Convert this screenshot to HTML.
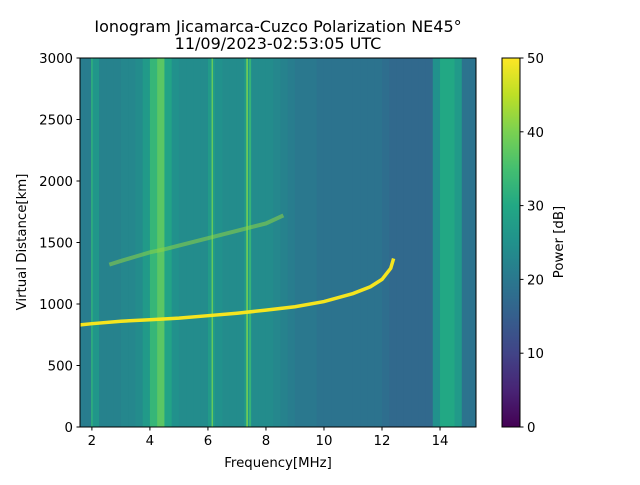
<!DOCTYPE html>
<html><head><meta charset="utf-8"><style>
body{margin:0;background:#fff;}
svg text{font-family:"DejaVu Sans","Liberation Sans",sans-serif;fill:#000;}
</style></head><body>
<svg id="chart" width="640" height="480" viewBox="0 0 640 480" xmlns="http://www.w3.org/2000/svg">
<defs>
<linearGradient id="vir" x1="0" y1="1" x2="0" y2="0">
<stop offset="0" stop-color="#440154"/><stop offset="0.1" stop-color="#482475"/><stop offset="0.2" stop-color="#414487"/><stop offset="0.3" stop-color="#355f8d"/><stop offset="0.4" stop-color="#2a788e"/><stop offset="0.5" stop-color="#21918c"/><stop offset="0.6" stop-color="#22a884"/><stop offset="0.7" stop-color="#44bf70"/><stop offset="0.8" stop-color="#7ad151"/><stop offset="0.9" stop-color="#bddf26"/><stop offset="1" stop-color="#fde725"/>
</linearGradient>
<clipPath id="plotclip"><rect x="80" y="58" width="396" height="369"/></clipPath>
</defs>
<g id="heat" clip-path="url(#plotclip)"></g>
<g id="traces" clip-path="url(#plotclip)"></g>
<rect x="80" y="58" width="396" height="369" fill="none" stroke="#000" stroke-width="1"/>
<g id="axes"></g>
<text x="278" y="32" font-size="16" text-anchor="middle">Ionogram Jicamarca-Cuzco Polarization NE45°</text>
<text x="278" y="49" font-size="16" text-anchor="middle">11/09/2023-02:53:05 UTC</text>
<text x="278" y="467" font-size="13.3" text-anchor="middle">Frequency[MHz]</text>
<text transform="translate(26,242) rotate(-90)" font-size="13.3" text-anchor="middle">Virtual Distance[km]</text>
<rect x="502" y="58" width="18" height="369" fill="url(#vir)" stroke="#000" stroke-width="1"/>
<g id="cbar"></g>
<text transform="translate(563,242) rotate(-90)" font-size="13.3" text-anchor="middle">Power [dB]</text>
</svg>
<script>
const binStart = 1.5, binWidth = 0.25;
const bandLevels = [21,21,26,22,22,22,23,23,24,27,33,37,29,25,24,24,24,24,27,25,24,24,24,27,24,24,24,23,22,21,20,20,20,19,19,19,19,19,19,19,19,19,18,17,17,17,17,17,17,25,30,30,27,19,19,19];
const spikeFreqs = [2.0, 6.15, 7.35, 7.45];
const spikeLevels = [32, 38, 40, 34];
const oFreq = [1.6,2,3,4,5,6,7,8,9,10,11,11.6,12,12.3,12.4];
const oDist = [830,840,860,872,885,905,925,950,978,1020,1085,1140,1200,1290,1370];
const xFreq = [2.6,3,3.5,4,4.5,5,6,7,8,8.6];
const xDist = [1320,1350,1385,1420,1445,1475,1535,1595,1655,1720];
const xTicks = [2,4,6,8,10,12,14];
const yTicks = [0,500,1000,1500,2000,2500,3000];
const cTicks = [0,10,20,30,40,50];

const NS='http://www.w3.org/2000/svg';
const fx = f => 80 + (f-1.59)*(396/(15.24-1.59));
const fy = d => 427 - d*369/3000;
const cy = v => 427 - v*369/50;
const vir = ['#440154','#482475','#414487','#355f8d','#2a788e','#21918c','#22a884','#44bf70','#7ad151','#bddf26','#fde725'];
function hex(h){return [1,3,5].map(i=>parseInt(h.substr(i,2),16));}
function color(v){let t=Math.max(0,Math.min(1,v/50))*10;let i=Math.min(9,Math.floor(t));let a=hex(vir[i]),b=hex(vir[i+1]);let u=t-i;return 'rgb('+a.map((c,k)=>Math.round(c+(b[k]-c)*u)).join(',')+')';}
function mk(tag,attrs,parent){const e=document.createElementNS(NS,tag);for(const k in attrs)e.setAttribute(k,attrs[k]);parent.appendChild(e);return e;}
const heat=document.getElementById('heat');
bandLevels.forEach((v,i)=>{
 const x0=fx(binStart+i*binWidth), x1=fx(binStart+(i+1)*binWidth);
 const r=mk('rect',{x:x0,y:58,width:x1-x0+0.5,height:369,fill:color(v)},heat);
 
 
});
spikeFreqs.forEach((f,i)=>{
 const l=mk('line',{x1:fx(f),x2:fx(f),y1:58,y2:427,stroke:color(spikeLevels[i]),'stroke-width':1.5},heat);
 
 
});
const tr=document.getElementById('traces');
const xp=mk('polyline',{points:xFreq.map((f,i)=>fx(f)+','+fy(xDist[i])).join(' '),fill:'none',stroke:'#8fd444','stroke-width':4,'stroke-opacity':0.55},tr);


const op=mk('polyline',{points:oFreq.map((f,i)=>fx(f)+','+fy(oDist[i])).join(' '),fill:'none',stroke:'#f5e51f','stroke-width':3.5},tr);


const ax=document.getElementById('axes');
xTicks.forEach(t=>{
 const x=fx(t);
 mk('line',{x1:x,x2:x,y1:427,y2:430.5,stroke:'#000'},ax);
 const tx=mk('text',{x:x,y:445,'font-size':13.3,'text-anchor':'middle'},ax);tx.textContent=t;
 
 
});
yTicks.forEach(t=>{
 const y=fy(t);
 mk('line',{x1:76.5,x2:80,y1:y,y2:y,stroke:'#000'},ax);
 const tx=mk('text',{x:73,y:y+5,'font-size':13.3,'text-anchor':'end'},ax);tx.textContent=t;
 
 
});
const cb=document.getElementById('cbar');
cTicks.forEach(t=>{
 const y=cy(t);
 mk('line',{x1:520,x2:523.5,y1:y,y2:y,stroke:'#000'},cb);
 const tx=mk('text',{x:527,y:y+5,'font-size':13.3},cb);tx.textContent=t;
 
 
});
</script>
</body></html>
